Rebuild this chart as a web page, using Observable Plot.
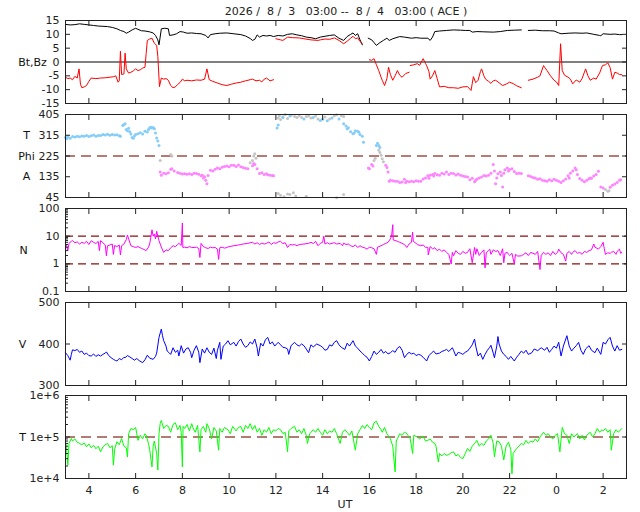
<!DOCTYPE html>
<html><head><meta charset="utf-8">
<script src="https://cdn.jsdelivr.net/npm/d3@7"></script>
<script src="https://cdn.jsdelivr.net/npm/@observablehq/plot@0.6"></script>
<style>
body{margin:0;background:#fff;}
#chart{position:relative;width:640px;height:512px;font-family:"DejaVu Sans",sans-serif;color:#222;overflow:hidden;}
.txt{position:absolute;white-space:pre;font-size:11px;line-height:13px;transform:translateX(-50%);}
#chart svg{position:absolute;left:0;}
</style></head><body><div id="chart"></div>
<script>
// ---- axis ticks ----
const hourTicks = [4,6,8,10,12,14,16,18,20,22,24,26];
const bTicks = [-15,-10,-5,0,5,10,15];
const phiTicks = [45,135,225,315,405];
const phiLabels = [{v:315,t:"T"},{v:225,t:"Phi"},{v:135,t:"A"}];
const nTicks = [0.1,1,10,100];
const nMinor = [0.2,0.3,0.4,0.5,0.6,0.7,0.8,0.9,2,3,4,5,6,7,8,9,20,30,40,50,60,70,80,90];
const vTicks = [300,400,500];
const tTicks = [1e4,1e5,1e6];
const tTickLabels = ["1e+4","1e+5","1e+6"];
const tMinor = [2e4,3e4,4e4,5e4,6e4,7e4,8e4,9e4,2e5,3e5,4e5,5e5,6e5,7e5,8e5,9e5];

// ---- data: [hour since 8/3 00:00 UT, value] ----
const bt = [[3.0,13.6],[3.2,13.4],[3.4,13.5],[3.6,13.8],[3.8,13.6],[4.0,13.4],[4.2,13.2],[4.4,13.0],[4.6,12.9],[4.8,12.8],[5.0,12.5],[5.2,12.0],[5.35,11.4],[5.5,11.0],[5.6,10.4],[5.7,10.8],[5.85,11.6],[6.0,12.2],[6.1,11.8],[6.25,11.3],[6.4,11.2],[6.6,10.9],[6.75,10.5],[6.85,9.6],[6.95,8.0],[7.0,6.2],[7.05,9.0],[7.1,12.0],[7.25,12.2],[7.4,12.0],[7.45,9.6],[7.6,9.8],[7.75,10.2],[7.9,11.0],[8.05,10.8],[8.2,10.4],[8.4,10.5],[8.6,10.3],[8.8,10.2],[9.0,9.6],[9.1,8.7],[9.2,9.9],[9.4,10.2],[9.6,10.4],[9.9,10.5],[10.2,10.2],[10.5,9.9],[10.7,9.4],[10.9,8.5],[11.0,7.8],[11.1,8.2],[11.2,9.8],[11.3,9.0],[11.45,9.6],[11.6,9.4],[11.75,9.6],[11.9,9.2],[12.1,9.6],[12.3,9.4],[12.5,10.0],[12.7,10.2],[12.9,9.8],[13.1,9.5],[13.3,9.0],[13.5,8.8],[13.7,8.4],[13.9,9.0],[14.1,9.3],[14.3,9.6],[14.5,9.8],[14.7,8.6],[14.9,7.8],[15.05,9.2],[15.2,10.0],[15.3,10.5],[15.4,9.6],[15.5,10.2],[15.6,8.0],[15.7,6.2],[15.8,null],[15.95,8.6],[16.1,8.0],[16.2,7.0],[16.3,6.0],[16.45,7.0],[16.6,7.8],[16.75,8.6],[16.85,7.8],[17.0,8.4],[17.3,9.2],[17.5,9.0],[17.8,8.6],[18.0,8.8],[18.2,8.6],[18.5,8.6],[18.6,7.8],[18.7,9.0],[18.8,11.0],[19.0,11.2],[19.3,11.4],[19.6,11.6],[19.9,11.5],[20.1,11.4],[20.3,11.4],[20.4,10.8],[20.6,11.0],[20.9,10.9],[21.3,10.8],[21.6,11.0],[21.9,11.4],[22.2,11.5],[22.5,11.6],[22.6,null],[22.8,11.4],[23.1,11.5],[23.4,11.3],[23.7,11.3],[23.9,11.2],[24.1,10.5],[24.2,10.2],[24.5,10.4],[24.8,10.5],[25.1,10.4],[25.3,10.5],[25.6,10.0],[25.85,9.6],[25.9,9.5],[26.0,10.2],[26.3,10.0],[26.5,10.1],[26.7,9.9],[26.8,9.9]];

const bz = [[3.0,-5.5],[3.1,-6.0],[3.2,-5.8],[3.3,-6.4],[3.4,-5.2],[3.5,-5.8],[3.58,-2.5],[3.64,-8.0],[3.7,-9.3],[3.8,-9.0],[3.9,-8.5],[4.0,-7.0],[4.1,-5.8],[4.3,-6.0],[4.5,-5.8],[4.7,-5.7],[4.9,-5.5],[5.06,-5.3],[5.15,-5.0],[5.25,-7.3],[5.3,-6.8],[5.35,3.9],[5.4,-4.5],[5.5,-4.3],[5.55,3.2],[5.6,-2.5],[5.7,-4.0],[5.8,-3.7],[5.9,-3.2],[6.0,-2.5],[6.1,-3.1],[6.2,-2.8],[6.3,-2.2],[6.4,-1.9],[6.45,3.0],[6.5,7.8],[6.6,8.3],[6.7,8.6],[6.8,6.8],[6.9,6.0],[6.95,2.0],[7.02,-8.9],[7.1,-5.8],[7.2,-6.2],[7.3,-6.0],[7.4,-6.6],[7.5,-8.5],[7.6,-9.3],[7.7,-9.0],[7.8,-8.1],[7.9,-7.4],[8.0,-6.2],[8.1,-6.8],[8.2,-6.6],[8.4,-6.8],[8.6,-6.5],[8.8,-6.6],[8.95,-6.2],[9.05,-2.5],[9.15,-6.4],[9.3,-7.0],[9.5,-7.6],[9.7,-8.2],[9.9,-8.5],[10.1,-8.0],[10.3,-7.6],[10.5,-7.3],[10.7,-6.8],[10.9,-6.4],[11.0,-6.2],[11.15,-6.8],[11.3,-6.6],[11.4,-7.2],[11.5,-6.2],[11.6,-5.8],[11.75,-6.8],[11.9,-6.4],[11.95,null],[12.0,8.4],[12.2,8.0],[12.3,7.8],[12.4,8.4],[12.5,9.0],[12.7,8.8],[13.0,8.7],[13.2,8.4],[13.5,8.0],[13.8,7.8],[13.9,8.0],[14.1,8.3],[14.3,8.2],[14.5,8.7],[14.7,7.8],[14.9,6.6],[15.05,7.5],[15.2,8.6],[15.3,9.3],[15.4,8.4],[15.5,8.7],[15.6,7.4],[15.7,6.6],[15.8,null],[16.0,0.8],[16.1,0.6],[16.2,1.2],[16.3,-1.0],[16.4,-3.1],[16.5,-5.5],[16.55,-6.6],[16.65,-8.5],[16.75,-6.0],[16.82,-1.9],[16.9,-4.5],[17.0,-6.6],[17.1,-5.0],[17.2,-3.1],[17.3,-4.8],[17.4,-5.5],[17.55,-4.2],[17.7,-3.7],[17.72,null],[17.75,-1.3],[17.9,-1.0],[18.05,-0.6],[18.15,-1.2],[18.3,1.2],[18.4,-0.5],[18.45,-1.3],[18.55,-3.5],[18.6,-6.2],[18.7,-5.0],[18.8,-3.1],[18.9,-6.0],[19.0,-9.0],[19.2,-8.8],[19.4,-9.3],[19.6,-9.3],[19.8,-9.5],[20.0,-9.0],[20.2,-8.9],[20.35,-10.3],[20.45,-5.3],[20.55,-7.5],[20.65,-6.6],[20.75,-3.5],[20.8,-2.5],[20.9,-5.0],[20.97,-6.2],[21.1,-7.0],[21.2,-7.7],[21.3,-6.8],[21.4,-6.6],[21.55,-7.5],[21.7,-8.5],[21.85,-8.0],[22.0,-7.3],[22.15,-7.8],[22.3,-8.6],[22.5,-9.3],[22.6,null],[22.8,-6.6],[23.0,-6.2],[23.2,-5.5],[23.3,-5.0],[23.45,-1.3],[23.55,-2.5],[23.6,-3.1],[23.75,-5.0],[23.9,-6.6],[24.0,-7.2],[24.1,-8.5],[24.18,6.6],[24.25,-3.1],[24.35,-4.8],[24.5,-5.5],[24.6,-6.2],[24.7,-7.9],[24.85,-6.5],[25.0,-7.3],[25.1,-6.0],[25.25,-2.5],[25.35,-5.0],[25.45,-6.6],[25.6,-5.8],[25.7,-6.2],[25.85,-4.0],[25.97,-1.3],[26.1,-1.0],[26.2,-0.3],[26.3,-2.0],[26.4,-6.2],[26.5,-3.7],[26.6,-4.0],[26.7,-4.5],[26.8,-4.6]];

const phiToward = [[3.0,305],[3.05,300],[3.1,308],[3.2,302],[3.3,310],[3.4,307],[3.5,311],[3.6,309],[3.7,312],[3.8,311],[3.9,314],[4.0,310],[4.1,313],[4.2,316],[4.3,311],[4.4,314],[4.5,314],[4.6,318],[4.7,316],[4.8,319],[4.9,315],[5.0,318],[5.1,316],[5.2,317],[5.3,313],[5.35,311],[5.45,357],[5.5,362],[5.55,365],[5.6,340],[5.65,335],[5.7,345],[5.75,330],[5.8,320],[5.85,305],[5.9,302],[5.95,312],[6.0,318],[6.1,322],[6.2,326],[6.3,320],[6.4,332],[6.5,329],[6.55,340],[6.6,348],[6.65,350],[6.7,346],[6.75,349],[6.8,343],[6.85,325],[6.9,303],[6.95,290],[7.0,271],[12.05,346],[12.1,360],[12.3,392],[12.6,398],[13.2,385],[13.6,392],[13.9,379],[14.0,384],[14.2,378],[14.4,390],[14.7,385],[14.9,365],[15.0,355],[15.05,343],[15.1,348],[15.2,330],[15.3,321],[15.35,325],[15.4,335],[15.5,332],[15.55,328],[15.6,318],[15.7,311],[15.75,285],[16.3,271],[16.35,280],[16.4,271],[16.45,262]];

const phiAway = [[7.05,156],[7.1,141],[7.2,150],[7.3,148],[7.4,152],[7.5,168],[7.55,170],[7.65,160],[7.8,153],[7.9,150],[8.0,147],[8.1,148],[8.2,146],[8.3,148],[8.4,145],[8.5,150],[8.6,149],[8.7,146],[8.8,139],[8.85,142],[8.9,130],[8.95,135],[9.0,120],[9.05,105],[9.1,140],[9.2,163],[9.3,160],[9.4,168],[9.5,173],[9.6,170],[9.7,176],[9.8,180],[9.9,182],[10.0,178],[10.1,185],[10.2,185],[10.3,180],[10.4,186],[10.5,178],[10.6,175],[10.7,172],[10.8,170],[11.0,183],[11.05,192],[11.1,188],[11.2,170],[11.3,149],[11.4,152],[11.5,145],[11.6,148],[11.65,144],[11.75,142],[11.85,140],[11.9,139],[15.96,173],[16.0,170],[16.1,188],[16.15,182],[16.7,185],[16.75,175],[16.8,156],[16.85,116],[16.9,120],[17.0,118],[17.1,116],[17.2,116],[17.3,110],[17.4,112],[17.5,124],[17.55,110],[17.6,115],[17.7,113],[17.8,115],[17.9,113],[18.0,118],[18.1,116],[18.2,116],[18.3,125],[18.4,130],[18.5,139],[18.55,128],[18.6,141],[18.7,145],[18.75,138],[18.8,149],[18.9,144],[19.0,141],[19.1,150],[19.2,147],[19.3,156],[19.4,145],[19.5,150],[19.6,149],[19.7,143],[19.8,147],[19.9,141],[20.0,138],[20.1,136],[20.2,134],[20.3,122],[20.4,128],[20.5,113],[20.55,120],[20.6,125],[20.7,130],[20.8,134],[20.9,140],[21.0,138],[21.1,141],[21.2,150],[21.3,188],[21.35,160],[21.4,105],[21.45,130],[21.5,148],[21.6,156],[21.65,140],[21.7,91],[21.75,150],[21.8,165],[21.9,173],[21.95,160],[22.0,166],[22.1,170],[22.2,158],[22.3,149],[22.4,150],[22.5,149],[22.8,139],[22.9,136],[23.0,132],[23.1,130],[23.2,124],[23.3,126],[23.4,120],[23.5,118],[23.6,116],[23.7,122],[23.8,118],[23.9,124],[24.0,120],[24.1,115],[24.2,110],[24.3,118],[24.4,125],[24.5,139],[24.55,130],[24.6,150],[24.7,160],[24.8,173],[24.85,165],[24.9,145],[25.0,127],[25.1,120],[25.2,113],[25.3,120],[25.4,126],[25.45,130],[25.5,128],[25.6,138],[25.7,145],[25.8,159],[25.9,91],[26.0,86],[26.3,90],[26.4,98],[26.5,104],[26.6,110],[26.7,120],[26.75,122]];

const phiOther = [[7.05,206],[7.5,231],[7.55,225],[10.9,196],[11.0,205],[11.05,225],[11.1,235],[11.15,215],[12.1,390],[12.15,400],[12.2,383],[12.3,395],[12.4,405],[12.5,388],[12.65,402],[12.8,396],[12.9,392],[13.0,400],[13.1,392],[13.3,396],[13.4,398],[13.5,390],[13.7,398],[13.8,386],[14.1,394],[14.3,386],[14.5,400],[14.6,404],[14.8,400],[14.9,396],[12.1,62],[12.2,55],[12.35,48],[12.5,60],[12.6,58],[12.75,66],[12.85,52],[13.3,50],[14.6,44],[14.9,58],[16.2,206],[16.25,215],[16.4,250],[16.45,240],[16.5,228],[16.55,213],[16.6,200],[26.1,80],[26.2,72],[26.25,74]];

const density = [[3.0,5.2],[3.05,4.5],[3.1,3.0],[3.15,5.5],[3.25,6.5],[3.3,6.9],[3.4,5.8],[3.5,6.2],[3.6,5.2],[3.7,6.0],[3.8,5.5],[3.9,6.5],[4.0,5.0],[4.1,6.8],[4.2,6.0],[4.3,5.4],[4.4,6.5],[4.45,3.0],[4.5,6.9],[4.6,5.8],[4.7,4.8],[4.75,1.95],[4.8,4.5],[4.9,4.8],[5.0,5.2],[5.05,2.2],[5.1,4.6],[5.2,4.2],[5.3,4.8],[5.35,2.1],[5.4,4.5],[5.5,5.2],[5.6,7.5],[5.65,11],[5.7,8.0],[5.8,4.5],[5.9,4.2],[6.0,3.9],[6.1,4.2],[6.2,3.8],[6.3,3.5],[6.45,3.0],[6.55,4.0],[6.6,5.2],[6.65,9],[6.7,17],[6.75,10],[6.8,12],[6.85,8],[6.9,15],[6.95,10],[7.0,6.9],[7.1,4.0],[7.2,2.6],[7.3,3.2],[7.4,3.0],[7.5,3.8],[7.6,4.5],[7.7,4.2],[7.8,5.0],[7.85,5.5],[7.95,4.6],[8.0,30],[8.02,3.9],[8.1,4.0],[8.2,3.8],[8.3,4.2],[8.4,3.9],[8.5,3.9],[8.6,4.0],[8.7,3.6],[8.75,1.7],[8.8,5.5],[8.9,4.2],[9.0,3.8],[9.1,3.6],[9.2,4.0],[9.3,3.8],[9.4,3.9],[9.5,3.4],[9.55,1.45],[9.6,3.8],[9.7,4.0],[9.8,3.7],[9.9,3.9],[10.0,4.2],[10.2,4.5],[10.4,4.8],[10.5,5.0],[10.6,5.2],[10.8,5.5],[10.9,5.8],[11.0,6.0],[11.1,5.2],[11.2,5.8],[11.3,5.0],[11.4,5.6],[11.5,5.2],[11.6,5.5],[11.7,6.2],[11.8,5.0],[11.9,5.8],[12.0,5.5],[12.1,6.2],[12.2,6.5],[12.3,5.4],[12.4,5.8],[12.5,3.9],[12.6,5.0],[12.7,4.8],[12.8,5.0],[12.9,4.5],[13.0,5.0],[13.2,5.2],[13.4,5.5],[13.5,6.0],[13.6,5.4],[13.7,6.5],[13.8,4.5],[13.9,5.5],[14.0,6.0],[14.05,10],[14.1,5.2],[14.2,5.8],[14.3,5.2],[14.4,5.5],[14.5,5.8],[14.6,5.2],[14.75,5.5],[14.85,4.5],[14.9,5.6],[15.0,5.0],[15.1,5.2],[15.2,4.5],[15.3,4.2],[15.4,4.8],[15.5,3.9],[15.6,4.5],[15.7,4.0],[15.8,3.8],[15.9,3.4],[16.0,4.0],[16.1,3.8],[16.2,3.5],[16.3,2.2],[16.35,4.0],[16.5,4.5],[16.6,5.0],[16.7,5.5],[16.8,6.0],[16.9,8.0],[16.95,10],[17.0,26],[17.02,7.3],[17.1,7.0],[17.2,6.5],[17.3,6.0],[17.4,5.5],[17.5,5.0],[17.6,3.9],[17.7,5.2],[17.8,6.0],[17.85,14],[17.88,6.5],[18.0,5.5],[18.05,5.0],[18.2,4.5],[18.3,4.8],[18.4,4.0],[18.5,3.9],[18.52,2.1],[18.6,4.2],[18.7,3.5],[18.8,3.8],[18.9,3.0],[19.0,3.4],[19.1,2.8],[19.2,3.2],[19.3,2.6],[19.4,2.2],[19.5,0.98],[19.55,2.6],[19.6,1.95],[19.7,3.0],[19.8,2.4],[19.9,2.2],[20.0,2.8],[20.1,2.4],[20.2,2.6],[20.3,3.5],[20.4,1.1],[20.5,3.9],[20.55,2.2],[20.6,3.5],[20.7,2.0],[20.8,2.6],[20.9,3.2],[20.95,0.72],[21.0,2.5],[21.1,3.0],[21.15,3.4],[21.2,2.2],[21.3,3.2],[21.4,2.8],[21.5,3.0],[21.6,2.0],[21.7,3.5],[21.75,1.1],[21.8,2.4],[21.9,2.6],[21.95,2.2],[22.0,2.0],[22.1,2.4],[22.2,0.98],[22.25,2.2],[22.35,1.9],[22.5,1.95],[22.6,2.2],[22.7,2.5],[22.8,2.0],[22.9,2.6],[23.0,2.4],[23.1,2.2],[23.2,2.8],[23.3,0.62],[23.35,2.0],[23.45,2.6],[23.55,2.2],[23.65,2.5],[23.75,2.0],[23.85,2.8],[23.95,2.2],[24.05,2.6],[24.1,3.4],[24.2,2.5],[24.3,2.2],[24.4,1.25],[24.45,2.4],[24.55,2.8],[24.65,2.2],[24.7,2.6],[24.8,3.0],[24.9,2.4],[25.0,2.6],[25.1,2.2],[25.2,2.8],[25.3,2.6],[25.4,3.0],[25.5,3.2],[25.6,5.2],[25.65,4.0],[25.7,3.8],[25.8,3.4],[25.9,4.2],[26.0,6.0],[26.05,3.5],[26.1,2.2],[26.2,2.5],[26.3,2.4],[26.35,2.6],[26.45,2.8],[26.55,2.2],[26.6,2.8],[26.7,3.4],[26.75,2.4],[26.8,2.6]];

const speed = [[3.0,379],[3.1,372],[3.2,361],[3.25,375],[3.3,386],[3.4,384],[3.5,387],[3.6,380],[3.7,383],[3.8,375],[3.9,378],[4.0,372],[4.1,371],[4.2,376],[4.3,370],[4.4,374],[4.5,371],[4.6,375],[4.7,378],[4.75,381],[4.85,372],[4.95,367],[5.05,363],[5.15,360],[5.2,359],[5.3,365],[5.4,362],[5.5,368],[5.55,367],[5.65,372],[5.75,369],[5.85,365],[5.95,361],[6.05,365],[6.15,360],[6.3,355],[6.4,362],[6.5,373],[6.6,366],[6.75,363],[6.85,370],[6.9,378],[7.0,416],[7.1,436],[7.15,420],[7.2,408],[7.3,395],[7.35,383],[7.45,378],[7.5,375],[7.6,391],[7.7,380],[7.8,385],[7.85,371],[7.95,396],[8.05,378],[8.15,388],[8.25,391],[8.35,380],[8.4,367],[8.5,385],[8.6,396],[8.7,380],[8.75,355],[8.85,388],[8.95,378],[9.05,391],[9.15,380],[9.25,375],[9.35,390],[9.45,365],[9.5,385],[9.6,404],[9.65,363],[9.75,395],[9.85,400],[9.95,408],[10.05,398],[10.2,404],[10.3,395],[10.4,406],[10.5,412],[10.6,400],[10.7,392],[10.8,396],[10.9,405],[11.0,400],[11.1,412],[11.2,390],[11.25,371],[11.35,402],[11.45,395],[11.55,410],[11.65,416],[11.75,400],[11.85,405],[11.95,395],[12.1,404],[12.2,398],[12.3,392],[12.4,391],[12.5,388],[12.55,375],[12.65,396],[12.8,404],[12.9,398],[13.0,395],[13.1,400],[13.2,396],[13.3,388],[13.4,379],[13.5,398],[13.6,393],[13.75,400],[13.9,396],[14.0,392],[14.1,385],[14.2,387],[14.3,398],[14.4,395],[14.5,404],[14.6,408],[14.7,398],[14.8,392],[14.95,387],[15.05,402],[15.15,395],[15.3,408],[15.4,395],[15.5,390],[15.6,383],[15.7,378],[15.8,372],[15.9,368],[16.0,359],[16.1,370],[16.2,383],[16.3,375],[16.4,380],[16.5,387],[16.6,378],[16.7,382],[16.8,376],[16.9,379],[17.0,384],[17.1,380],[17.2,390],[17.3,394],[17.4,385],[17.5,367],[17.6,375],[17.7,380],[17.8,376],[17.9,378],[18.0,372],[18.1,375],[18.2,373],[18.3,368],[18.45,359],[18.55,372],[18.65,378],[18.75,383],[18.85,376],[19.0,378],[19.1,382],[19.2,384],[19.3,387],[19.4,382],[19.55,391],[19.6,385],[19.7,371],[19.8,380],[19.9,378],[20.0,375],[20.1,380],[20.2,383],[20.3,390],[20.4,398],[20.5,412],[20.55,395],[20.65,371],[20.75,378],[20.85,363],[20.95,375],[21.05,385],[21.15,392],[21.2,397],[21.3,378],[21.35,367],[21.45,395],[21.5,418],[21.55,400],[21.65,383],[21.75,375],[21.85,370],[21.95,363],[22.05,370],[22.2,359],[22.3,368],[22.4,375],[22.5,383],[22.6,378],[22.7,385],[22.8,375],[22.95,379],[23.05,388],[23.2,384],[23.35,391],[23.5,385],[23.6,392],[23.7,380],[23.8,387],[23.9,395],[24.0,390],[24.1,404],[24.2,371],[24.3,395],[24.45,420],[24.55,395],[24.65,383],[24.75,390],[24.85,396],[24.95,404],[25.05,385],[25.15,375],[25.25,388],[25.4,396],[25.5,385],[25.65,379],[25.75,390],[25.9,375],[26.0,404],[26.1,400],[26.2,410],[26.3,416],[26.4,395],[26.5,383],[26.6,396],[26.7,385],[26.8,387]];

const temperature = [[3.0,8.3e4],[3.05,5e4],[3.1,2.1e4],[3.15,7e4],[3.25,9.2e4],[3.3,8e4],[3.4,9e4],[3.5,7.5e4],[3.6,7e4],[3.7,6.5e4],[3.8,7.2e4],[3.9,5.8e4],[4.0,6.8e4],[4.1,5.5e4],[4.2,6.3e4],[4.3,5.2e4],[4.4,6e4],[4.5,4.4e4],[4.6,5.8e4],[4.7,6.5e4],[4.8,7e4],[4.9,5.5e4],[5.0,6.2e4],[5.05,2.1e4],[5.1,5e4],[5.2,7.7e4],[5.3,6.5e4],[5.4,9.2e4],[5.5,6e4],[5.6,5.5e4],[5.65,3.3e4],[5.7,1.2e5],[5.8,1.6e5],[5.9,1.5e5],[6.0,1.7e5],[6.05,1.2e5],[6.1,8.3e4],[6.2,1.1e5],[6.3,9e4],[6.4,1.2e5],[6.45,1.1e5],[6.55,7e4],[6.6,5e4],[6.7,1.9e4],[6.75,6e4],[6.8,8e4],[6.9,4e4],[6.95,1.6e4],[7.0,1.2e5],[7.05,2.1e5],[7.1,2.5e5],[7.2,1.6e5],[7.3,1.9e5],[7.4,1.8e5],[7.5,1.3e5],[7.6,2e5],[7.7,2.2e5],[7.8,1.5e5],[7.9,1.9e5],[7.95,1.3e5],[8.0,1.9e4],[8.03,1.8e5],[8.1,1.6e5],[8.2,2e5],[8.3,1.4e5],[8.4,2.1e5],[8.45,1.7e5],[8.55,1.3e5],[8.65,1.9e5],[8.75,4.4e4],[8.8,1.5e5],[8.9,1.8e5],[9.0,1.3e5],[9.05,2.1e5],[9.15,1.6e5],[9.25,9e4],[9.35,1.7e5],[9.45,1.4e5],[9.55,4.8e4],[9.6,1.6e5],[9.7,1.3e5],[9.8,1.7e5],[9.95,1.5e5],[10.05,1.2e5],[10.15,1.8e5],[10.3,1.4e5],[10.4,1.7e5],[10.5,1.8e5],[10.6,1.3e5],[10.7,1.9e5],[10.8,1.6e5],[10.9,2.1e5],[11.0,1.5e5],[11.1,1.9e5],[11.2,1.3e5],[11.3,1.6e5],[11.4,1.1e5],[11.5,1.5e5],[11.6,1.3e5],[11.7,1.7e5],[11.8,1.2e5],[11.9,1.5e5],[12.0,1.4e5],[12.1,1.6e5],[12.2,1.5e5],[12.3,1.2e5],[12.4,1.3e5],[12.5,4.4e4],[12.55,1.4e5],[12.65,1.6e5],[12.8,1.8e5],[12.9,1.3e5],[13.0,1.5e5],[13.1,1.2e5],[13.2,1.6e5],[13.3,1.1e5],[13.35,7e4],[13.45,1.2e5],[13.6,1.5e5],[13.7,1.3e5],[13.8,1.6e5],[13.9,1.3e5],[14.0,1.1e5],[14.1,1.5e5],[14.2,1.2e5],[14.3,1.4e5],[14.4,1.3e5],[14.5,1.6e5],[14.6,1.2e5],[14.75,7e4],[14.85,1.3e5],[14.95,1.5e5],[15.05,1.3e5],[15.15,1.1e5],[15.25,1.4e5],[15.4,4.8e4],[15.5,1.2e5],[15.6,1.5e5],[15.7,1.9e5],[15.8,1.6e5],[15.9,2e5],[16.0,1.7e5],[16.1,1.5e5],[16.2,2.2e5],[16.3,2.4e5],[16.4,1.8e5],[16.5,1.5e5],[16.55,1.3e5],[16.65,1.7e5],[16.75,1.2e5],[16.8,1.1e5],[16.9,9e4],[17.0,6e4],[17.1,1.45e4],[17.15,8e4],[17.2,9.2e4],[17.3,1.2e5],[17.4,1.1e5],[17.5,1.3e5],[17.55,1.3e5],[17.65,1.1e5],[17.75,9e4],[17.85,4e4],[17.9,1.1e5],[18.05,1e5],[18.15,9e4],[18.3,1.05e5],[18.4,8e4],[18.5,8.3e4],[18.6,9e4],[18.7,7.5e4],[18.8,7e4],[18.85,6e4],[18.95,2.5e4],[19.0,4e4],[19.1,3.5e4],[19.2,4e4],[19.3,3.6e4],[19.4,3.8e4],[19.5,4.2e4],[19.6,4.4e4],[19.7,3.5e4],[19.8,3.8e4],[19.9,3.2e4],[20.0,3e4],[20.1,4e4],[20.2,5.3e4],[20.3,4.5e4],[20.4,6e4],[20.5,7e4],[20.6,8.3e4],[20.7,6e4],[20.8,7e4],[20.9,6.3e4],[21.0,8e4],[21.1,9e4],[21.2,1.1e5],[21.3,7e4],[21.35,3.3e4],[21.45,8e4],[21.55,7.7e4],[21.65,6e4],[21.75,2.8e4],[21.85,6e4],[21.95,7.5e4],[22.05,5e4],[22.1,1.3e4],[22.15,4e4],[22.3,5.3e4],[22.4,6e4],[22.5,7e4],[22.6,6.5e4],[22.7,8.3e4],[22.8,7e4],[22.9,8e4],[23.0,7.5e4],[23.1,9e4],[23.2,7.7e4],[23.3,1e5],[23.45,1.3e5],[23.55,1.1e5],[23.65,1.2e5],[23.75,1e5],[23.85,9e4],[23.95,1.1e5],[24.05,1.2e5],[24.15,4.4e4],[24.25,1.7e5],[24.35,1.2e5],[24.45,1.1e5],[24.55,7e4],[24.65,1.2e5],[24.75,1e5],[24.9,1.2e5],[25.0,9e4],[25.1,1.1e5],[25.2,8.5e4],[25.3,1.1e5],[25.45,1.3e5],[25.55,1e5],[25.65,1.2e5],[25.75,1.6e5],[25.85,1.3e5],[25.95,1.5e5],[26.0,1.4e5],[26.1,1.6e5],[26.2,1.3e5],[26.3,1.5e5],[26.35,4.8e4],[26.45,1.2e5],[26.55,1.5e5],[26.65,1.3e5],[26.8,1.6e5]];

// ---- layout ----
const W = 640, ML = 65, MR = 14, MT = 4, IH = 83;
const FRAME = "#222";
const X = d => d[0], Y = d => d[1];
const chart = document.getElementById("chart");

function addText(str, left, top) {
  const el = document.createElement("div");
  el.className = "txt";
  el.textContent = str;
  el.style.left = left + "px";
  el.style.top = top + "px";
  chart.appendChild(el);
}

function panel({top, y, ticks, tickFormat, minor = [], marks, mb = 4, xText = false}) {
  const m = [
    ...marks,
    Plot.frame({stroke: FRAME}),
    Plot.axisX(hourTicks, {anchor: "bottom", tickSize: -5, fill: "none", stroke: FRAME, label: null}),
    Plot.axisX(hourTicks, {anchor: "top", tickSize: -5, fill: "none", stroke: FRAME, label: null}),
    Plot.axisY(ticks, {anchor: "left", tickSize: -5, fill: "none", stroke: FRAME, label: null}),
    Plot.axisY(ticks, {anchor: "right", tickSize: -5, fill: "none", stroke: FRAME, label: null}),
    Plot.axisY(ticks, {anchor: "left", tickSize: 0, tickPadding: 6, tickFormat, fill: "#222", label: null})
  ];
  if (minor.length) m.push(Plot.axisY(minor, {anchor: "left", tickSize: -3, fill: "none", stroke: FRAME, label: null}));
  if (xText) m.push(Plot.axisX(hourTicks, {anchor: "bottom", tickSize: 0, tickPadding: 8, tickFormat: h => String(h % 24), fill: "#222", label: null}));
  const svg = Plot.plot({
    width: W, height: MT + IH + mb,
    marginLeft: ML, marginRight: MR, marginTop: MT, marginBottom: mb,
    style: {fontFamily: "DejaVu Sans, sans-serif", fontSize: "11px", color: "#222", background: "transparent", overflow: "visible"},
    x: {domain: [3, 27]},
    y,
    marks: m
  });
  svg.style.top = (top - MT) + "px";
  chart.appendChild(svg);
}

const labelStyle = {fontFamily: "DejaVu Sans, sans-serif", fontSize: 11, fill: "#111", frameAnchor: "left", textAnchor: "middle"};

// Panel 1: Bt, Bz
panel({
  top: 20, y: {domain: [-15, 15]}, ticks: bTicks, tickFormat: d => String(d),
  marks: [
    Plot.ruleY([0], {stroke: "#808080", strokeWidth: 2}),
    Plot.line(bt, {x: X, y: Y, stroke: "#000000", strokeWidth: 1}),
    Plot.line(bz, {x: X, y: Y, stroke: "#ff0000", strokeWidth: 1}),
    Plot.text(["Bt,Bz"], {...labelStyle, text: d => d, dx: -33})
  ]
});

// Panel 2: Phi
panel({
  top: 114, y: {domain: [45, 405]}, ticks: phiTicks, tickFormat: d => String(d),
  marks: [
    Plot.ruleY([225], {stroke: "#b57a72", strokeWidth: 2, strokeDasharray: "10,6"}),
    Plot.dot(phiOther, {x: X, y: Y, r: 1.5, fill: "#c4c4c4"}),
    Plot.dot(phiToward, {x: X, y: Y, r: 1.5, fill: "#84cdfa"}),
    Plot.dot(phiAway, {x: X, y: Y, r: 1.5, fill: "#ff84ff"}),
    Plot.text(phiLabels, {...labelStyle, y: "v", text: "t", dx: -39})
  ]
});

// Panel 3: N
panel({
  top: 208, y: {type: "log", domain: [0.1, 100]}, ticks: nTicks, tickFormat: d => String(d), minor: nMinor,
  marks: [
    Plot.ruleY([1, 10], {stroke: "#8b1010", strokeWidth: 1.2, strokeDasharray: "8,5"}),
    Plot.line(density, {x: X, y: Y, stroke: "#ff00ff", strokeWidth: 1}),
    Plot.text(["N"], {...labelStyle, text: d => d, dx: -42})
  ]
});

// Panel 4: V
panel({
  top: 302, y: {domain: [300, 500]}, ticks: vTicks, tickFormat: d => String(d),
  marks: [
    Plot.line(speed, {x: X, y: Y, stroke: "#0000ff", strokeWidth: 1}),
    Plot.text(["V"], {...labelStyle, text: d => d, dx: -43})
  ]
});

// Panel 5: T
panel({
  top: 395, y: {type: "log", domain: [1e4, 1e6]}, ticks: tTicks,
  tickFormat: d => tTickLabels[tTicks.indexOf(d)], minor: tMinor, mb: 24, xText: true,
  marks: [
    Plot.ruleY([1e5], {stroke: "#b57a72", strokeWidth: 2, strokeDasharray: "10,6"}),
    Plot.line(temperature, {x: X, y: Y, stroke: "#00ff00", strokeWidth: 1}),
    Plot.text(["T"], {...labelStyle, text: d => d, dx: -43})
  ]
});

addText("2026 /  8 /  3   03:00 --  8 /  4   03:00 ( ACE )", 346, 5);
addText("UT", 345, 498);
</script></body></html>
